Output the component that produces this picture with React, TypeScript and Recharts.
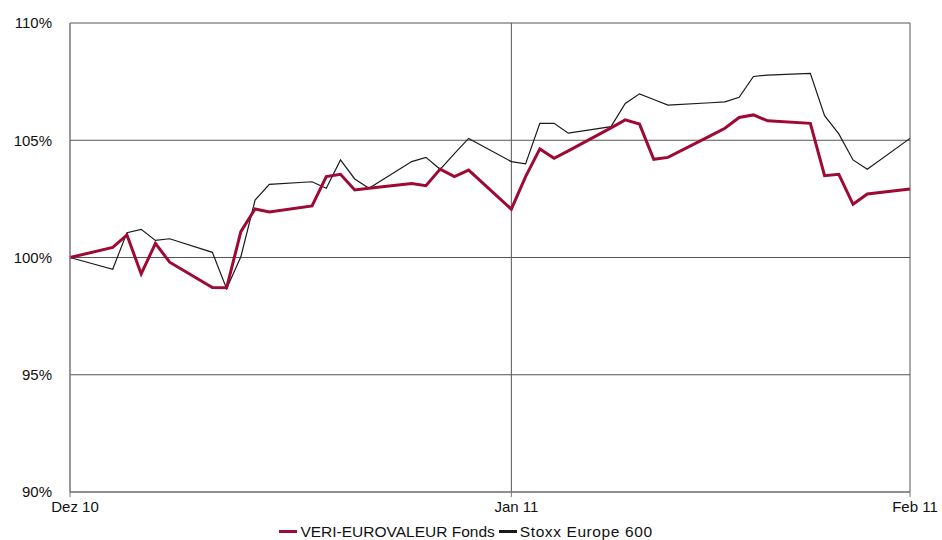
import React from "react";
import { LineChart, Line, XAxis, YAxis, CartesianGrid, Legend } from "recharts";

// trading-day offsets (calendar days from the first observation)
const days = [0, 3, 4, 5, 6, 7, 10, 11, 12, 13, 14, 17, 18, 19, 20, 21, 24, 25, 26, 27, 28, 31, 32, 33, 34, 35, 38, 39, 40, 41, 42, 45, 46, 47, 48, 49, 52, 53, 54, 55, 56, 59];

const fondsValues = [100, 100.43, 100.96, 99.3, 100.6, 99.8, 98.72, 98.71, 101.1, 102.07, 101.94, 102.2, 103.45, 103.55, 102.88, 102.95, 103.16, 103.06, 103.77, 103.45, 103.73, 102.06, 103.45, 104.63, 104.23, 104.55, 105.53, 105.87, 105.69, 104.19, 104.27, 105.2, 105.51, 105.97, 106.08, 105.83, 105.72, 103.49, 103.55, 102.27, 102.71, 102.92];

const stoxxValues = [100, 99.5, 101.06, 101.2, 100.73, 100.8, 100.22, 98.67, 100.03, 102.45, 103.12, 103.23, 102.95, 104.16, 103.35, 102.95, 104.09, 104.27, 103.76, 104.43, 105.08, 104.09, 103.99, 105.72, 105.72, 105.3, 105.58, 106.57, 106.98, 106.74, 106.5, 106.6, 106.64, 106.83, 107.72, 107.78, 107.85, 106.05, 105.27, 104.16, 103.76, 105.08];

const xTicks = [0, 31, 59];
const xTickLabels = ["Dez 10", "Jan 11", "Feb 11"];
const yTicks = [90, 95, 100, 105, 110];

const seriesNames = ["VERI-EUROVALEUR Fonds", "Stoxx Europe 600"];
const seriesColors = ["#9e0a33", "#1a1a1a"];

const data = days.map((d, i) => ({ day: d, fonds: fondsValues[i], stoxx: stoxxValues[i] }));

const FONT = "'Liberation Sans', Arial, sans-serif";

const LegendContent = () => (
  <div
    style={{
      height: 22,
      paddingTop: 5,
      paddingLeft: 22,
      boxSizing: "border-box",
      display: "flex",
      justifyContent: "center",
      alignItems: "center",
      fontFamily: FONT,
      fontSize: 15.5,
      color: "#111",
      lineHeight: "17px",
    }}
  >
    {seriesNames.map((n, i) => (
      <span key={n} style={{ display: "inline-flex", alignItems: "center", marginRight: i === 0 ? 4 : 0 }}>
        <span style={{ display: "inline-block", width: 18, height: 3, background: seriesColors[i], marginRight: 3 }} />
        <span style={{ letterSpacing: i === 1 ? 0.6 : 0 }}>{n}</span>
      </span>
    ))}
  </div>
);

export default function App() {
  return (
    <div style={{ width: 942, height: 540, position: "relative", background: "#fff" }}>
      <style>{"body{margin:0;overflow:hidden;background:#fff}"}</style>
      <LineChart width={942} height={540} data={data} margin={{ top: 23, right: 32, left: 0, bottom: 0 }}>
        <CartesianGrid stroke="#555" strokeWidth={1} />
        <XAxis
          dataKey="day"
          type="number"
          domain={[0, 59]}
          ticks={xTicks}
          tickFormatter={(v: number) => xTickLabels[xTicks.indexOf(v)]}
          height={26}
          tickSize={5}
          tickMargin={4}
          stroke="#777"
          tick={{ fill: "#111", fontSize: 15, fontFamily: FONT, dx: 5 }}
          interval={0}
        />
        <YAxis
          domain={[90, 110]}
          ticks={yTicks}
          tickFormatter={(v: number) => `${v}%`}
          width={70}
          tickLine={false}
          tickSize={6}
          tickMargin={12}
          stroke="#888"
          tick={{ fill: "#111", fontSize: 15, fontFamily: FONT }}
          interval={0}
        />
        <Legend verticalAlign="bottom" content={<LegendContent />} />
        <Line
          type="linear"
          dataKey="stoxx"
          name={seriesNames[1]}
          stroke={seriesColors[1]}
          strokeWidth={1.2}
          dot={false}
          isAnimationActive={false}
        />
        <Line
          type="linear"
          dataKey="fonds"
          name={seriesNames[0]}
          stroke={seriesColors[0]}
          strokeWidth={3}
          dot={false}
          isAnimationActive={false}
        />
      </LineChart>
    </div>
  );
}
